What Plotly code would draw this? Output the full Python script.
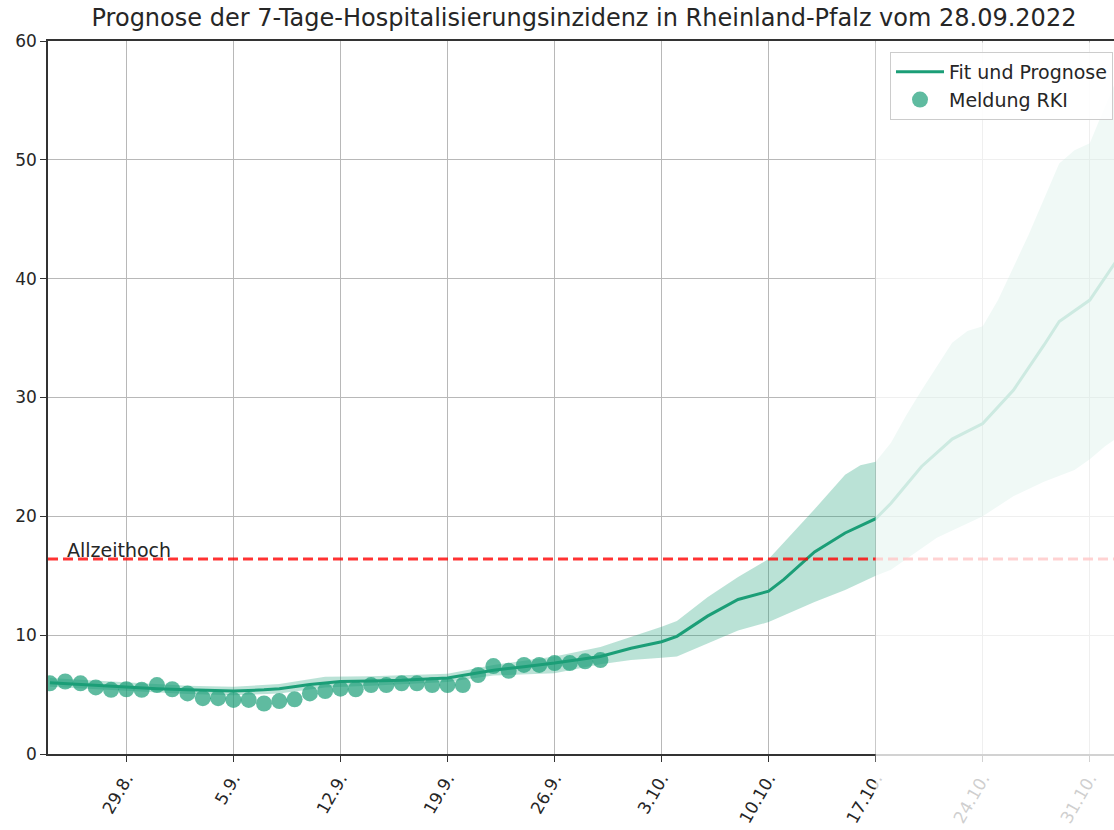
import pandas as pd
import plotly.graph_objects as go

# ---------------- data ----------------
rki_dates = pd.date_range("2022-08-24", "2022-09-29", freq="D")
rki_values = [5.95, 6.1, 5.95, 5.6, 5.4, 5.45, 5.4, 5.8, 5.45, 5.1,
              4.7, 4.7, 4.55, 4.55, 4.25, 4.45, 4.6, 5.1, 5.3, 5.5,
              5.45, 5.8, 5.8, 5.95, 5.95, 5.8, 5.8, 5.8, 6.65, 7.4,
              7.0, 7.5, 7.5, 7.65, 7.65, 7.8, 7.9]

fit_dates = ["2022-08-24", "2022-08-26", "2022-08-29", "2022-08-31", "2022-09-02",
             "2022-09-05", "2022-09-07", "2022-09-08", "2022-09-10", "2022-09-11",
             "2022-09-12", "2022-09-14", "2022-09-16", "2022-09-19", "2022-09-21",
             "2022-09-22", "2022-09-24", "2022-09-26", "2022-09-29", "2022-10-01",
             "2022-10-03", "2022-10-04", "2022-10-06", "2022-10-08", "2022-10-10",
             "2022-10-11", "2022-10-13", "2022-10-15", "2022-10-17", "2022-10-18",
             "2022-10-20", "2022-10-22", "2022-10-24", "2022-10-26", "2022-10-28",
             "2022-10-29", "2022-10-31", "2022-11-02"]
fit_values = [6.0, 5.85, 5.65, 5.5, 5.4,
              5.3, 5.4, 5.5, 5.85, 6.0,
              6.1, 6.15, 6.2, 6.4, 6.8,
              7.05, 7.35, 7.65, 8.2, 8.9,
              9.45, 9.9, 11.6, 13.0, 13.7,
              14.7, 17.0, 18.6, 19.8, 21.1,
              24.2, 26.5, 27.8, 30.6, 34.4,
              36.4, 38.2, 42.0]

upper_dates = ["2022-08-24", "2022-08-29", "2022-09-02", "2022-09-05", "2022-09-08",
               "2022-09-11", "2022-09-14", "2022-09-19", "2022-09-22", "2022-09-26",
               "2022-09-29", "2022-10-03", "2022-10-04", "2022-10-06", "2022-10-08",
               "2022-10-10", "2022-10-13", "2022-10-15", "2022-10-16", "2022-10-17",
               "2022-10-18", "2022-10-19", "2022-10-20", "2022-10-22", "2022-10-23",
               "2022-10-24", "2022-10-25", "2022-10-27", "2022-10-29", "2022-10-30",
               "2022-10-31", "2022-11-01", "2022-11-02"]
upper_values = [6.4, 6.05, 5.75, 5.65, 5.9,
                6.5, 6.55, 6.75, 7.5, 8.2,
                9.0, 10.7, 11.2, 13.2, 14.9,
                16.4, 20.6, 23.5, 24.3, 24.6,
                26.2, 28.5, 30.6, 34.6, 35.6,
                36.0, 38.2, 43.7, 49.7, 50.8,
                51.4, 54.5, 57.5]

lower_dates = ["2022-08-24", "2022-08-29", "2022-09-02", "2022-09-05", "2022-09-08",
               "2022-09-11", "2022-09-14", "2022-09-19", "2022-09-22", "2022-09-26",
               "2022-09-29", "2022-10-01", "2022-10-03", "2022-10-04", "2022-10-06",
               "2022-10-08", "2022-10-10", "2022-10-13", "2022-10-15", "2022-10-17",
               "2022-10-18", "2022-10-21", "2022-10-24", "2022-10-26", "2022-10-28",
               "2022-10-30", "2022-10-31", "2022-11-01", "2022-11-02"]
lower_values = [5.65, 5.3, 5.05, 4.95, 5.1,
                5.6, 5.75, 6.05, 6.6, 6.8,
                7.55, 7.9, 8.1, 8.2, 9.3,
                10.4, 11.1, 12.8, 13.8, 15.0,
                15.5, 18.2, 20.0, 21.7, 22.9,
                23.9, 24.8, 25.9, 26.8]

allzeithoch = 16.4

tick_dates = ["2022-08-29", "2022-09-05", "2022-09-12", "2022-09-19", "2022-09-26",
              "2022-10-03", "2022-10-10", "2022-10-17", "2022-10-24", "2022-10-31"]
tick_labels = ["29.8.", "5.9.", "12.9.", "19.9.", "26.9.",
               "3.10.", "10.10.", "17.10.", "24.10.", "31.10."]

x_start = "2022-08-23 21:00"
x_end = "2022-11-01 14:00"
forecast_start = "2022-10-17"

# ---------------- figure ----------------
TEAL = "#1b9e77"
FONT = "DejaVu Sans"

fig = go.Figure()

band_x = list(upper_dates) + list(reversed(lower_dates))
band_y = list(upper_values) + list(reversed(lower_values))
fig.add_trace(go.Scatter(x=band_x, y=band_y, fill="toself", mode="lines",
                         line=dict(width=0), fillcolor="rgba(27,158,119,0.3)",
                         showlegend=False, hoverinfo="skip"))
fig.add_trace(go.Scatter(x=fit_dates, y=fit_values, mode="lines",
                         line=dict(color=TEAL, width=3), name="Fit und Prognose"))
fig.add_trace(go.Scatter(x=rki_dates, y=rki_values, mode="markers",
                         marker=dict(color="rgba(27,158,119,0.7)", size=16, line=dict(width=0)),
                         name="Meldung RKI"))

# fraction of the x range where the forecast overlay begins
t0 = pd.Timestamp(x_start)
t1 = pd.Timestamp(x_end)
frac = (pd.Timestamp(forecast_start) - t0) / (t1 - t0)

fig.add_shape(type="line", xref="paper", yref="y", x0=0, x1=1,
              y0=allzeithoch, y1=allzeithoch, layer="above",
              line=dict(color="rgba(255,0,0,0.8)", width=3, dash="10px,5px"))
fig.add_shape(type="rect", xref="paper", yref="paper", x0=frac, x1=1.01,
              y0=-0.12, y1=1 - 1.5 / 713, layer="above",
              fillcolor="rgba(255,255,255,0.78)", line=dict(width=0))

fig.add_annotation(x="2022-08-25", y=allzeithoch, xref="x", yref="y",
                   text="Allzeithoch", showarrow=False, xanchor="left", yanchor="bottom",
                   yshift=-4, font=dict(family=FONT, size=19, color="#262626"))

fig.update_layout(
    width=1114, height=830,
    margin=dict(l=48, r=0, t=41, b=76),
    paper_bgcolor="white", plot_bgcolor="white",
    font=dict(family=FONT, color="#262626"),
    title=dict(text="Prognose der 7-Tage-Hospitalisierungsinzidenz in Rheinland-Pfalz vom 28.09.2022",
               x=584 / 1114, xanchor="center", xref="container",
               y=1 - 18 / 830, yanchor="middle", yref="container",
               font=dict(family=FONT, size=24, color="#262626")),
    legend=dict(x=1 - 1 / 1066, xanchor="right", y=1 - 11 / 713, yanchor="top",
                bgcolor="rgba(255,255,255,0.85)", bordercolor="#cccccc", borderwidth=1,
                font=dict(family=FONT, size=19, color="#262626"),
                itemwidth=48, tracegroupgap=4),
    showlegend=True,
)

fig.update_xaxes(type="date", range=[x_start, x_end],
                 tickmode="array", tickvals=tick_dates, ticktext=tick_labels,
                 tickangle=-60, tickfont=dict(family=FONT, size=17, color="#262626"),
                 ticks="outside", ticklen=6, tickwidth=1.3, tickcolor="#333333",
                 showgrid=True, gridcolor="#b8b8b8", gridwidth=1.2,
                 showline=True, linecolor="#333333", linewidth=1.5, mirror=True,
                 zeroline=False)
fig.update_yaxes(range=[0, 60], tickmode="linear", tick0=0, dtick=10,
                 tickfont=dict(family=FONT, size=17, color="#262626"),
                 ticks="outside", ticklen=6, tickwidth=1.3, tickcolor="#333333",
                 showgrid=True, gridcolor="#b8b8b8", gridwidth=1.2,
                 showline=True, linecolor="#333333", linewidth=1.5,
                 zeroline=False)

fig.write_html("out.html", config={"displayModeBar": False},
               post_script="document.body.style.margin='0';document.body.style.overflow='hidden';")
